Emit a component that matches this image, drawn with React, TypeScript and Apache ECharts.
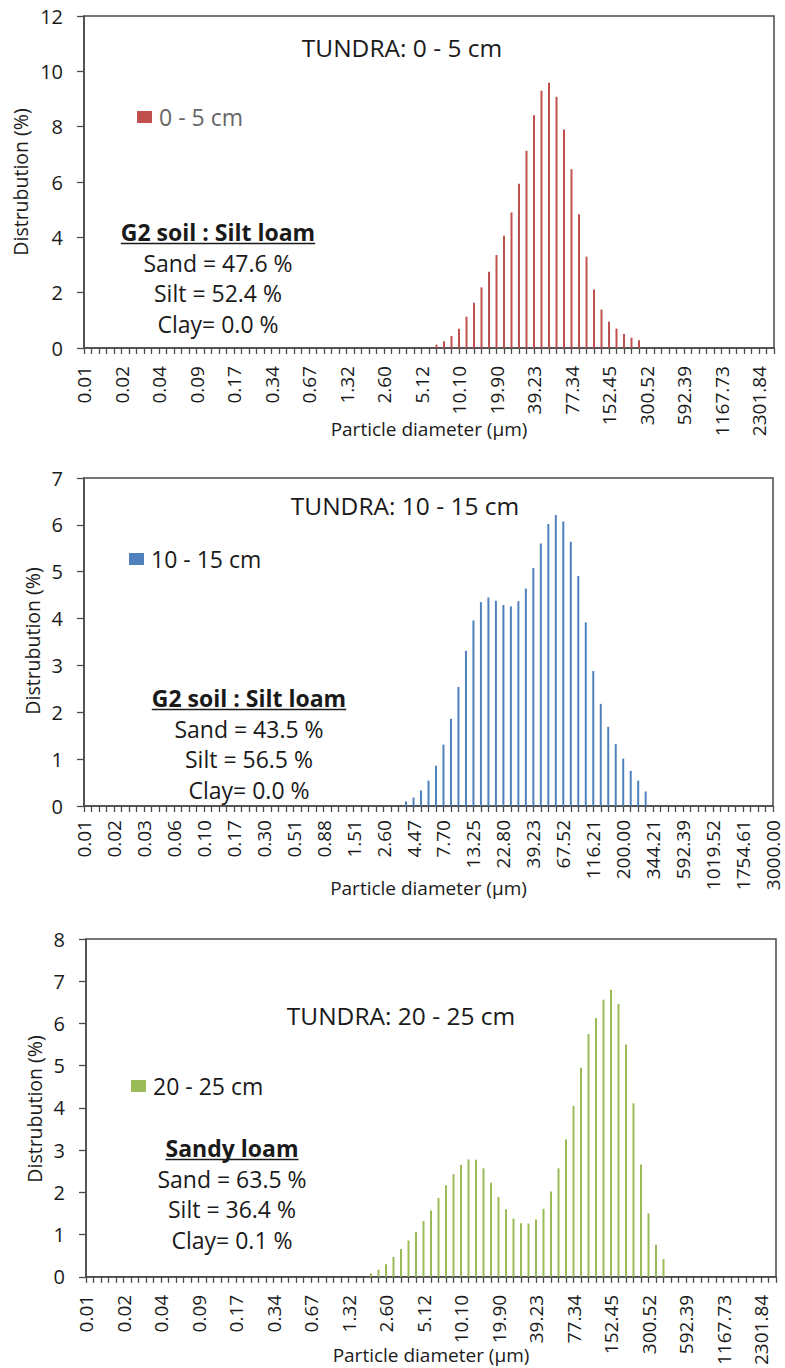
import React, { useEffect, useRef } from "react";
import * as echarts from "echarts";

// Particle size classes (µm), 93 channels from 0.01 to 3000 µm
const diameters = [
  0.0115, 0.0131, 0.015, 0.0172, 0.0197, 0.0226, 0.0258, 0.0296, 0.0339, 0.0388,
  0.0444, 0.0508, 0.0582, 0.0666, 0.0763, 0.0874, 0.1001, 0.1146, 0.1313, 0.1503,
  0.1722, 0.1972, 0.2258, 0.2586, 0.2962, 0.3392, 0.3885, 0.445, 0.5096, 0.5836,
  0.6684, 0.7656, 0.8768, 1.0042, 1.1501, 1.3172, 1.5086, 1.7278, 1.9788, 2.2663,
  2.6, 2.98, 3.41, 3.9, 4.47, 5.12, 5.86, 6.72, 7.7, 8.82,
  10.1, 11.57, 13.25, 15.17, 17.38, 19.9, 22.8, 26.11, 29.9, 34.25,
  39.23, 44.93, 51.46, 58.94, 67.52, 77.34, 88.58, 101.46, 116.21, 133.1,
  152.45, 174.61, 200.0, 229.07, 262.37, 300.52, 344.21, 394.24, 451.56, 517.2,
  592.39, 678.5, 777.14, 890.12, 1019.52, 1167.73, 1337.48, 1531.91, 1754.61, 2009.69,
  2301.84, 2636.47, 3000.0,
];

// Distribution (%) per size class; each list begins at the given channel index
const start0to5 = 47;
const dist0to5 = [
  0.12, 0.24, 0.43, 0.7, 1.13, 1.64, 2.19, 2.76, 3.36, 4.06, 4.9, 5.94, 7.13, 8.41,
  9.3, 9.59, 9.08, 7.9, 6.46, 4.83, 3.3, 2.11, 1.39, 0.95, 0.7, 0.51, 0.37, 0.28,
];

const start10to15 = 43;
const dist10to15 = [
  0.1, 0.18, 0.33, 0.54, 0.86, 1.31, 1.86, 2.54, 3.31, 3.96, 4.35, 4.45, 4.38, 4.29,
  4.26, 4.37, 4.64, 5.08, 5.6, 6.02, 6.21, 6.07, 5.64, 4.91, 3.92, 2.88, 2.18, 1.69,
  1.32, 1.01, 0.75, 0.54, 0.31,
];

const start20to25 = 38;
const dist20to25 = [
  0.08, 0.17, 0.3, 0.47, 0.66, 0.86, 1.07, 1.32, 1.57, 1.87, 2.17, 2.43, 2.65, 2.78,
  2.77, 2.57, 2.23, 1.89, 1.6, 1.38, 1.27, 1.26, 1.36, 1.61, 2.02, 2.57, 3.25, 4.05,
  4.95, 5.75, 6.13, 6.56, 6.8, 6.46, 5.5, 4.11, 2.66, 1.5, 0.76, 0.42,
];

// Texture summaries
const texture0to5 = ["G2 soil : Silt loam", "Sand = 47.6 %", "Silt = 52.4 %", "Clay= 0.0 %"];
const texture10to15 = ["G2 soil : Silt loam", "Sand = 43.5 %", "Silt = 56.5 %", "Clay= 0.0 %"];
const texture20to25 = ["Sandy loam", "Sand = 63.5 %", "Silt = 36.4 %", "Clay= 0.1 %"];

const FONT = '"Open Sans", sans-serif';
const AXIS_COLOR = "#4a4a4a";
const TEXT_COLOR = "#1a1a1a";

function spread(start: number, values: number[]) {
  return diameters.map((_, i) =>
    i >= start && i < start + values.length ? values[i - start] : null
  );
}

const panels = [
  {
    title: "TUNDRA: 0 - 5 cm",
    name: "0 - 5 cm",
    color: "#C0504D",
    data: spread(start0to5, dist0to5),
    texture: texture0to5,
    yMax: 12,
    yStep: 2,
    labelSkip: 4,
    grid: { left: 84, top: 16, width: 690, height: 332 },
    xLabelMargin: 18,
    titlePos: [402, 47],
    legendPos: [137, 104],
    legendTextColor: "#666666",
    texturePos: [218, 232],
    yNamePos: [20, 182],
    xNameY: 429,
  },
  {
    title: "TUNDRA: 10 - 15 cm",
    name: "10 - 15 cm",
    color: "#4F81BD",
    data: spread(start10to15, dist10to15),
    texture: texture10to15,
    yMax: 7,
    yStep: 1,
    labelSkip: 3,
    grid: { left: 84, top: 478, width: 689, height: 328 },
    xLabelMargin: 14,
    titlePos: [405, 505],
    legendPos: [129, 546],
    legendTextColor: TEXT_COLOR,
    texturePos: [249, 698],
    yNamePos: [32, 641],
    xNameY: 888,
  },
  {
    title: "TUNDRA: 20 - 25 cm",
    name: "20 - 25 cm",
    color: "#9BBB59",
    data: spread(start20to25, dist20to25),
    texture: texture20to25,
    yMax: 8,
    yStep: 1,
    labelSkip: 4,
    grid: { left: 86, top: 939, width: 690, height: 339 },
    xLabelMargin: 18,
    titlePos: [401, 1015],
    legendPos: [131, 1073],
    legendTextColor: TEXT_COLOR,
    texturePos: [232, 1148],
    yNamePos: [34, 1109],
    xNameY: 1355,
  },
];

function textWidth(text: string, font: string) {
  const ctx = document.createElement("canvas").getContext("2d");
  if (!ctx) return text.length * 12;
  ctx.font = font;
  return ctx.measureText(text).width;
}

export default function App() {
  const ref = useRef<HTMLDivElement>(null);

  useEffect(() => {
    if (!ref.current) return;
    const chart = echarts.init(ref.current, undefined, { renderer: "svg" });

    const graphics: any[] = [];
    panels.forEach((p) => {
      const cx = p.grid.left + p.grid.width / 2;
      graphics.push({
        type: "text",
        x: p.titlePos[0],
        y: p.titlePos[1],
        style: {
          text: p.title,
          fontSize: 24.5,
          fontFamily: FONT,
          fill: TEXT_COLOR,
          align: "center",
          verticalAlign: "middle",
        },
      });
      graphics.push({
        type: "text",
        x: p.yNamePos[0],
        y: p.yNamePos[1],
        rotation: Math.PI / 2,
        style: {
          text: "Distrubution (%)",
          fontSize: 19.5,
          fontFamily: FONT,
          fill: TEXT_COLOR,
          align: "center",
          verticalAlign: "middle",
        },
      });
      graphics.push({
        type: "text",
        x: cx,
        y: p.xNameY,
        style: {
          text: "Particle diameter (µm)",
          fontSize: 19,
          fontFamily: FONT,
          fill: TEXT_COLOR,
          align: "center",
          verticalAlign: "middle",
        },
      });
      p.texture.forEach((line, k) => {
        const bold = k === 0;
        const y = p.texturePos[1] + k * 30.5;
        graphics.push({
          type: "text",
          x: p.texturePos[0],
          y,
          style: {
            text: line,
            fontSize: 23,
            fontWeight: bold ? "bold" : "normal",
            fontFamily: FONT,
            fill: TEXT_COLOR,
            align: "center",
            verticalAlign: "middle",
          },
        });
        if (bold) {
          const w = textWidth(line, `bold 23px ${FONT}`);
          graphics.push({
            type: "line",
            shape: {
              x1: p.texturePos[0] - w / 2,
              y1: y + 11.5,
              x2: p.texturePos[0] + w / 2,
              y2: y + 11.5,
            },
            style: { stroke: TEXT_COLOR, lineWidth: 1.3 },
          });
        }
      });
    });

    chart.setOption({
      animation: false,
      backgroundColor: "#ffffff",
      grid: panels.map((p) => ({
        ...p.grid,
        show: true,
        borderColor: AXIS_COLOR,
        borderWidth: 1.5,
        containLabel: false,
      })),
      xAxis: panels.map((p, i) => ({
        type: "category",
        gridIndex: i,
        data: diameters,
        boundaryGap: false,
        axisLine: { show: true, lineStyle: { color: AXIS_COLOR, width: 1.5 } },
        axisTick: {
          show: true,
          interval: 0,
          length: 6,
          lineStyle: { color: AXIS_COLOR, width: 1.3 },
        },
        axisLabel: {
          interval: p.labelSkip,
          rotate: 90,
          margin: p.xLabelMargin,
          fontSize: 19,
          fontFamily: FONT,
          color: TEXT_COLOR,
          formatter: (v: any) => Number(v).toFixed(2),
        },
        splitLine: { show: false },
      })),
      yAxis: panels.map((p, i) => ({
        type: "value",
        gridIndex: i,
        min: 0,
        max: p.yMax,
        interval: p.yStep,
        axisLine: { show: true, lineStyle: { color: AXIS_COLOR, width: 1.5 } },
        axisTick: { show: true, length: 7, lineStyle: { color: AXIS_COLOR, width: 1.3 } },
        axisLabel: {
          margin: 21,
          fontSize: 20,
          fontFamily: FONT,
          color: TEXT_COLOR,
        },
        splitLine: { show: false },
      })),
      legend: panels.map((p) => ({
        data: [p.name],
        left: p.legendPos[0],
        top: p.legendPos[1],
        padding: 0,
        icon: "rect",
        itemWidth: 15,
        itemHeight: 12,
        itemGap: 0,
        textStyle: {
          fontSize: 23,
          lineHeight: 26,
          fontFamily: FONT,
          color: p.legendTextColor,
          padding: [0, 0, 0, 2],
        },
      })),
      series: panels.map((p, i) => ({
        type: "bar",
        name: p.name,
        xAxisIndex: i,
        yAxisIndex: i,
        data: p.data,
        barWidth: 2,
        itemStyle: { color: p.color },
      })),
      graphic: graphics,
    });

    return () => chart.dispose();
  }, []);

  return (
    <div
      ref={ref}
      style={{ position: "absolute", left: 0, top: 0, width: 785, height: 1368 }}
    />
  );
}
